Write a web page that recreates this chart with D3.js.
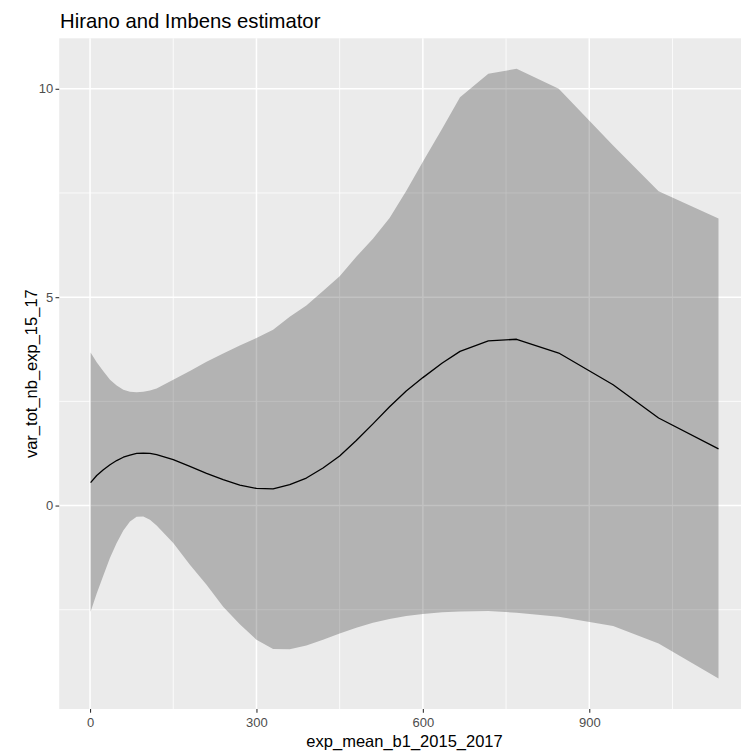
<!DOCTYPE html>
<html>
<head>
<meta charset="utf-8">
<script src="https://cdn.jsdelivr.net/npm/d3@7"></script>
<style>
  html, body { margin: 0; padding: 0; background: #ffffff; }
  svg { display: block; font-family: "Liberation Sans", Arial, sans-serif; }
</style>
</head>
<body>
<svg id="chart" width="741" height="753"></svg>
<script>
// Dose-response estimate with its confidence band
const doseGrid = [1, 12, 24, 36, 48, 60, 72, 84, 96, 108, 120, 150, 180, 210, 240, 270, 300, 330,
  360, 390, 420, 450, 480, 510, 540, 570, 600, 635, 667, 718, 769, 845, 943, 1025, 1133];
const estimate = [0.55, 0.72, 0.86, 0.98, 1.08, 1.16, 1.21, 1.25, 1.26, 1.25, 1.22, 1.10, 0.94, 0.77,
  0.62, 0.49, 0.41, 0.40, 0.50, 0.66, 0.90, 1.19, 1.56, 1.96, 2.37, 2.75, 3.07, 3.42, 3.70, 3.95,
  3.99, 3.66, 2.90, 2.10, 1.36];
const upperBound = [3.67, 3.44, 3.22, 3.02, 2.88, 2.78, 2.73, 2.72, 2.73, 2.76, 2.81, 3.02, 3.23,
  3.45, 3.65, 3.84, 4.02, 4.22, 4.53, 4.80, 5.15, 5.50, 5.97, 6.40, 6.90, 7.55, 8.25, 9.05, 9.80,
  10.36, 10.48, 10.00, 8.64, 7.54, 6.89];
const lowerBound = [-2.55, -2.11, -1.68, -1.25, -0.90, -0.60, -0.38, -0.27, -0.26, -0.34, -0.48,
  -0.90, -1.42, -1.90, -2.43, -2.85, -3.22, -3.44, -3.45, -3.36, -3.22, -3.07, -2.93, -2.81, -2.72,
  -2.65, -2.60, -2.56, -2.54, -2.53, -2.57, -2.67, -2.89, -3.31, -4.15];

const xMajor = [0, 300, 600, 900];
const xMinor = [150, 450, 750, 1050];
const yMajor = [0, 5, 10];
const yMinor = [-2.5, 2.5, 7.5];

const titleText = "Hirano and Imbens estimator";
const xTitle = "exp_mean_b1_2015_2017";
const yTitle = "var_tot_nb_exp_15_17";

const FONT = "'Liberation Sans', Arial, sans-serif";
const svg = d3.select("#chart");
const panel = { left: 59.2, right: 749.9, top: 38.3, bottom: 709 };

// 5% expansion on both axes
const xExt = d3.extent(doseGrid);
const xPad = (xExt[1] - xExt[0]) * 0.05;
const x = d3.scaleLinear().domain([xExt[0] - xPad, xExt[1] + xPad]).range([panel.left, panel.right]);
const yLo = d3.min(lowerBound), yHi = d3.max(upperBound);
const yPad = (yHi - yLo) * 0.05;
const y = d3.scaleLinear().domain([yLo - yPad, yHi + yPad]).range([panel.bottom, panel.top]);

const rows = doseGrid.map((d, i) => ({ x: d, est: estimate[i], lo: lowerBound[i], hi: upperBound[i] }));

// panel background
svg.append("rect")
  .attr("x", panel.left).attr("y", panel.top)
  .attr("width", panel.right - panel.left).attr("height", panel.bottom - panel.top)
  .attr("fill", "#ebebeb");

const grid = svg.append("g");
grid.selectAll(".xmin").data(xMinor).join("line")
  .attr("x1", d => x(d)).attr("x2", d => x(d))
  .attr("y1", panel.top).attr("y2", panel.bottom)
  .attr("stroke", "#ffffff").attr("stroke-width", 0.8);
grid.selectAll(".ymin").data(yMinor).join("line")
  .attr("y1", d => y(d)).attr("y2", d => y(d))
  .attr("x1", panel.left).attr("x2", panel.right)
  .attr("stroke", "#ffffff").attr("stroke-width", 0.8);
grid.selectAll(".xmaj").data(xMajor).join("line")
  .attr("x1", d => x(d)).attr("x2", d => x(d))
  .attr("y1", panel.top).attr("y2", panel.bottom)
  .attr("stroke", "#ffffff").attr("stroke-width", 1.5);
grid.selectAll(".ymaj").data(yMajor).join("line")
  .attr("y1", d => y(d)).attr("y2", d => y(d))
  .attr("x1", panel.left).attr("x2", panel.right)
  .attr("stroke", "#ffffff").attr("stroke-width", 1.5);

// confidence ribbon
const area = d3.area().x(d => x(d.x)).y0(d => y(d.lo)).y1(d => y(d.hi));
svg.append("path").datum(rows)
  .attr("d", area)
  .attr("fill", "#000000").attr("fill-opacity", 0.24);

// point estimate
const line = d3.line().x(d => x(d.x)).y(d => y(d.est));
svg.append("path").datum(rows)
  .attr("d", line)
  .attr("fill", "none").attr("stroke", "#000000").attr("stroke-width", 1.3)
  .attr("stroke-linejoin", "round");

// axes
const xAxis = d3.axisBottom(x).tickValues(xMajor).tickSize(3.7).tickPadding(4.9);
const gx = svg.append("g").attr("transform", `translate(0,${panel.bottom})`).call(xAxis);
const yAxis = d3.axisLeft(y).tickValues(yMajor).tickSize(3.7).tickPadding(2.2);
const gy = svg.append("g").attr("transform", `translate(${panel.left},0)`).call(yAxis);
[gx, gy].forEach(g => {
  g.attr("font-size", 13).attr("font-family", FONT);
  g.select(".domain").remove();
  g.selectAll(".tick line").attr("stroke", "#333333").attr("stroke-width", 1.1);
  g.selectAll(".tick text")
    .attr("fill", "#4d4d4d").style("fill", "#4d4d4d")
    .attr("font-size", 13).style("font-size", "13px")
    .style("font-family", FONT);
});

// titles
svg.append("text")
  .attr("x", panel.left + 0.8).attr("y", 28.3)
  .attr("font-family", FONT).attr("font-size", 20.3).attr("fill", "#000000")
  .text(titleText);

svg.append("text")
  .attr("x", (panel.left + panel.right) / 2).attr("y", 747)
  .attr("text-anchor", "middle")
  .attr("font-family", FONT).attr("font-size", 16.5).attr("fill", "#000000")
  .text(xTitle);

svg.append("text")
  .attr("transform", `translate(37,${(panel.top + panel.bottom) / 2}) rotate(-90)`)
  .attr("text-anchor", "middle")
  .attr("font-family", FONT).attr("font-size", 16.5).attr("fill", "#000000")
  .text(yTitle);
</script>
</body>
</html>
